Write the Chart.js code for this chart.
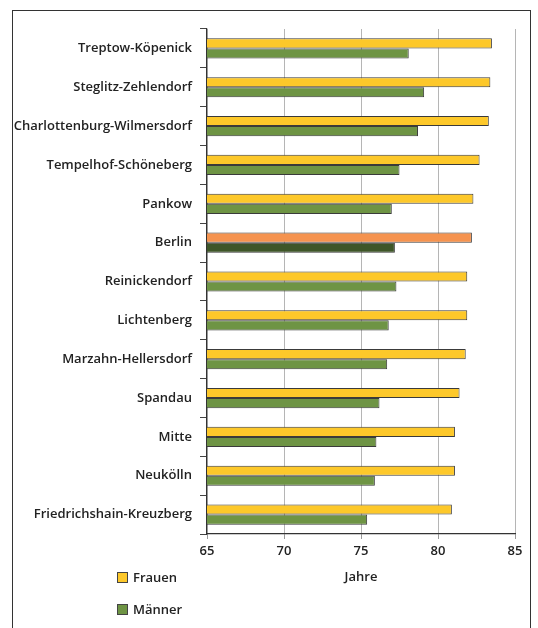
<!DOCTYPE html>
<html>
<head>
<meta charset="utf-8">
<script src="https://cdn.jsdelivr.net/npm/chart.js@4/dist/chart.umd.min.js"></script>
<style>
  html, body { margin: 0; padding: 0; background: #fff; }
  #wrap { position: relative; width: 538px; height: 628px; overflow: hidden; }
  #frame { position: absolute; left: 12px; top: 10px; width: 519px; height: 640px; border: 1.5px solid #333; box-sizing: border-box; }
  canvas { position: absolute; left: 0; top: 0; }
  .leg { position: absolute; left: 117px; font: 600 13px "Open Sans", sans-serif; color: #222; display: flex; align-items: center; }
  .leg span.sw { display: inline-block; width: 9px; height: 9px; border: 1px solid #444; margin-right: 5px; }
</style>
</head>
<body>
<div id="wrap">
  <div id="frame"></div>
  <canvas id="c" width="538" height="628"></canvas>
  <div id="legend"></div>
</div>
<script>
const categories = ['Treptow-Köpenick','Steglitz-Zehlendorf','Charlottenburg-Wilmersdorf','Tempelhof-Schöneberg','Pankow','Berlin','Reinickendorf','Lichtenberg','Marzahn-Hellersdorf','Spandau','Mitte','Neukölln','Friedrichshain-Kreuzberg'];
const frauen = [83.5, 83.4, 83.3, 82.7, 82.3, 82.2, 81.9, 81.9, 81.8, 81.4, 81.1, 81.1, 80.9];
const maenner = [78.1, 79.1, 78.7, 77.5, 77.0, 77.2, 77.3, 76.8, 76.7, 76.2, 76.0, 75.9, 75.4];
const xTicks = [65, 70, 75, 80, 85];
const seriesNames = ['Frauen', 'Männer'];
const highlight = 'Berlin';

const colF = '#FDC82A', colFHi = '#F5934F';
const colM = '#6E9444', colMHi = '#3E5628';

const fontFam = '"Open Sans", sans-serif';

new Chart(document.getElementById('c'), {
  type: 'bar',
  data: {
    labels: categories,
    datasets: [
      { label: seriesNames[0], data: frauen,
        backgroundColor: categories.map(c => c === highlight ? colFHi : colF),
        borderColor: '#3a3a3a', borderWidth: 1, borderSkipped: false,
        categoryPercentage: 0.52, barPercentage: 1.0 },
      { label: seriesNames[1], data: maenner,
        backgroundColor: categories.map(c => c === highlight ? colMHi : colM),
        borderColor: '#3a3a3a', borderWidth: 1, borderSkipped: false,
        categoryPercentage: 0.52, barPercentage: 1.0 }
    ]
  },
  options: {
    indexAxis: 'y',
    responsive: false,
    animation: false,
    events: [],
    layout: { padding: { left: 13, top: 29, right: 23, bottom: 34 } },
    plugins: { legend: { display: false }, tooltip: { enabled: false } },
    scales: {
      x: {
        min: 65, max: 85,
        afterBuildTicks: s => { s.ticks = xTicks.map(v => ({ value: v })); },
        afterFit: s => { s.height = 60; },
        grid: { color: '#b5b5b5', lineWidth: 1, tickLength: 5, tickColor: '#999' },
        border: { color: '#333', width: 1.2 },
        ticks: { color: '#222', padding: 4, font: { family: fontFam, size: 13, weight: '600' } },
        title: { display: true, text: 'Jahre', color: '#222', padding: { top: 0, bottom: 9 },
                 font: { family: fontFam, size: 13, weight: '600' } }
      },
      y: {
        afterFit: s => { s.width = 194; },
        grid: { drawOnChartArea: false, tickLength: 7, tickColor: '#444', offset: true },
        border: { color: '#333', width: 1.2 },
        ticks: { color: '#222', padding: 8, font: { family: fontFam, size: 13, weight: '600' } }
      }
    }
  }
});

const legendEl = document.getElementById('legend');
const legendCols = [colF, colM];
const legendTops = [568, 600];
seriesNames.forEach((n, i) => {
  const d = document.createElement('div');
  d.className = 'leg';
  d.style.top = legendTops[i] + 'px';
  d.innerHTML = '<span class="sw" style="background:' + legendCols[i] + '"></span>' + n;
  legendEl.appendChild(d);
});
</script>
</body>
</html>
